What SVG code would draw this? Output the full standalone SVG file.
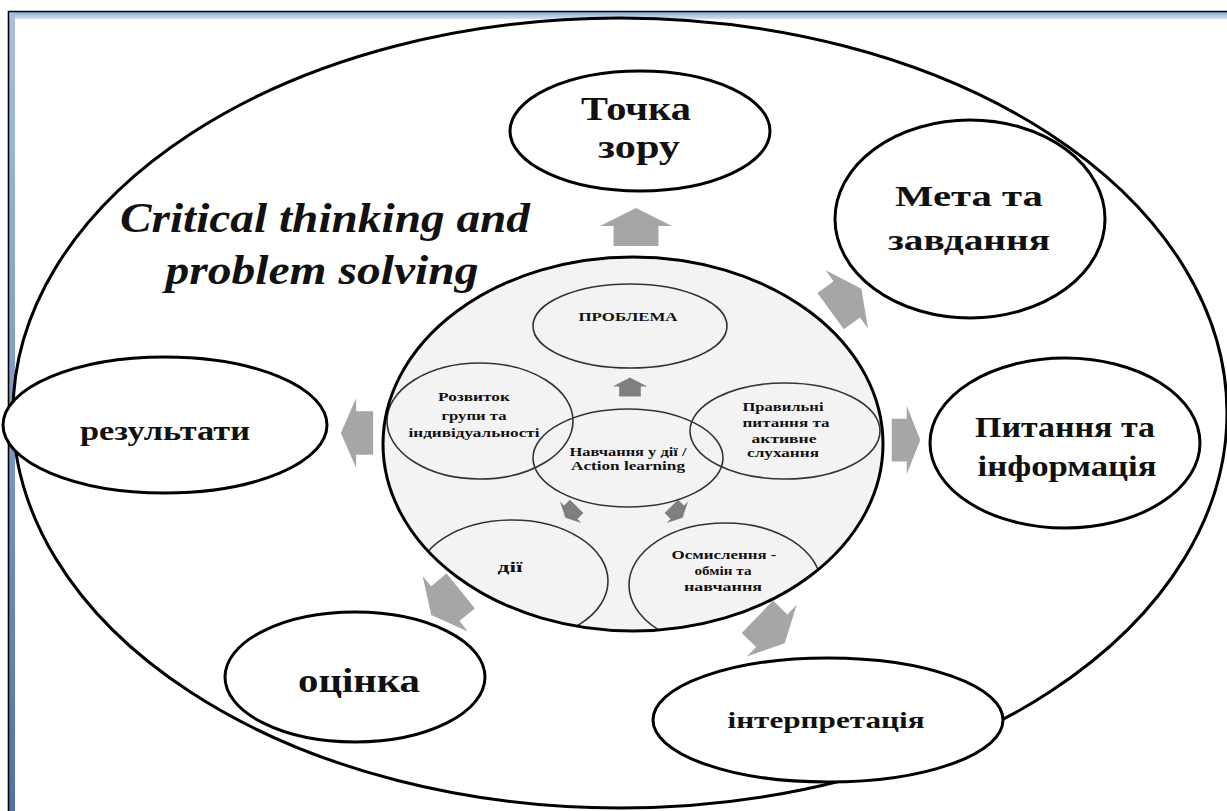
<svg xmlns="http://www.w3.org/2000/svg" width="1227" height="811" viewBox="0 0 1227 811">
<style>
.big{font-family:"Liberation Serif","Times New Roman",serif;font-weight:bold;fill:#111;text-anchor:middle}
.sm{font-family:"Liberation Serif","Times New Roman",serif;font-weight:bold;fill:#111;text-anchor:middle}
.ttl{font-family:"Liberation Serif","Times New Roman",serif;font-weight:bold;font-style:italic;fill:#111;text-anchor:middle}
.ol{fill:#fff;stroke:#000;stroke-width:3}
.il{fill:none;stroke:#333;stroke-width:1.6}
.barrow{fill:#a6a6a6}
.sarrow{fill:#7f7f7f}
</style>
<defs>
<linearGradient id="gTop" x1="0" y1="0" x2="0" y2="1"><stop offset="0" stop-color="#8ba8d2"/><stop offset="1" stop-color="#d9e3f1"/></linearGradient>
<linearGradient id="gLeft" x1="0" y1="0" x2="0" y2="1"><stop offset="0" stop-color="#a9bfdf"/><stop offset="1" stop-color="#4f74aa"/></linearGradient>
<path id="arr" d="M0,-19 L36,-1 L22.5,-1 L22.5,19 L-22.5,19 L-22.5,-1 L-36,-1 Z"/>
<clipPath id="innerClip"><ellipse cx="633" cy="444" rx="250" ry="187"/></clipPath>
</defs>
<rect x="0" y="0" width="1227" height="811" fill="#fff"/>
<g id="frame">
<rect x="9" y="12" width="1218" height="7" fill="url(#gTop)"/>
<rect x="9" y="12" width="6" height="799" fill="url(#gLeft)"/>
<path d="M8.5,811 L8.5,11.5 L1227,11.5" fill="none" stroke="#000" stroke-width="1.6"/>
</g>
<g id="outer">
<ellipse cx="620" cy="413" rx="607" ry="395" fill="none" stroke="#000" stroke-width="3"/>
</g>
<g id="title">
<text class="ttl" x="325" y="232" font-size="42" textLength="410" lengthAdjust="spacingAndGlyphs">Critical thinking and</text>
<text class="ttl" x="322" y="284" font-size="42" textLength="313" lengthAdjust="spacingAndGlyphs">problem solving</text>
</g>
<g id="node-tochka">
<ellipse class="ol" cx="640" cy="131" rx="130" ry="60"/>
<text class="big" x="636" y="120" font-size="34" textLength="110" lengthAdjust="spacingAndGlyphs">Точка</text>
<text class="big" x="639" y="158" font-size="34" textLength="82" lengthAdjust="spacingAndGlyphs">зору</text>
</g>
<g id="node-meta">
<ellipse class="ol" cx="970" cy="219" rx="135" ry="99"/>
<text class="big" x="969" y="206" font-size="30" textLength="148" lengthAdjust="spacingAndGlyphs">Мета та</text>
<text class="big" x="969" y="250" font-size="30" textLength="162" lengthAdjust="spacingAndGlyphs">завдання</text>
</g>
<g id="node-pytannia">
<ellipse class="ol" cx="1065" cy="443" rx="135" ry="85"/>
<text class="big" x="1065" y="437" font-size="29" textLength="180" lengthAdjust="spacingAndGlyphs">Питання та</text>
<text class="big" x="1067" y="476" font-size="29" textLength="179" lengthAdjust="spacingAndGlyphs">інформація</text>
</g>
<g id="node-interpretatsiia">
<ellipse class="ol" cx="828" cy="720" rx="175" ry="62"/>
<text class="big" x="826" y="728" font-size="23" textLength="197" lengthAdjust="spacingAndGlyphs">інтерпретація</text>
</g>
<g id="node-otsinka">
<ellipse class="ol" cx="355" cy="677" rx="130" ry="65"/>
<text class="big" x="359" y="692" font-size="34" textLength="122" lengthAdjust="spacingAndGlyphs">оцінка</text>
</g>
<g id="node-rezultaty">
<ellipse class="ol" cx="165" cy="425" rx="162" ry="68"/>
<text class="big" x="165" y="440" font-size="28" textLength="170" lengthAdjust="spacingAndGlyphs">результати</text>
</g>
<g id="node-inner">
<ellipse cx="633" cy="444" rx="250" ry="187" fill="#f3f3f3" stroke="none"/>
<g clip-path="url(#innerClip)">
<g id="node-problema">
<ellipse class="il" cx="630" cy="326" rx="97" ry="42"/>
<text class="sm" x="628" y="321" font-size="12" textLength="99" lengthAdjust="spacingAndGlyphs">ПРОБЛЕМА</text>
</g>
<g id="node-rozvytok">
<ellipse class="il" cx="480" cy="421" rx="93" ry="58"/>
<text class="sm" x="474" y="401" font-size="11.5" textLength="72" lengthAdjust="spacingAndGlyphs">Розвиток</text>
<text class="sm" x="474" y="420" font-size="11.5" textLength="65" lengthAdjust="spacingAndGlyphs">групи та</text>
<text class="sm" x="474" y="437" font-size="11.5" textLength="131" lengthAdjust="spacingAndGlyphs">індивідуальності</text>
</g>
<g id="node-pravylni">
<ellipse class="il" cx="785" cy="431" rx="95" ry="48"/>
<text class="sm" x="783" y="411" font-size="11.5" textLength="81" lengthAdjust="spacingAndGlyphs">Правильні</text>
<text class="sm" x="786" y="427" font-size="11.5" textLength="87" lengthAdjust="spacingAndGlyphs">питання та</text>
<text class="sm" x="784" y="443" font-size="11.5" textLength="65" lengthAdjust="spacingAndGlyphs">активне</text>
<text class="sm" x="783" y="457" font-size="11.5" textLength="72" lengthAdjust="spacingAndGlyphs">слухання</text>
</g>
<g id="node-dii">
<ellipse class="il" cx="512" cy="581" rx="96" ry="61"/>
<text class="sm" x="510" y="572" font-size="14" textLength="25" lengthAdjust="spacingAndGlyphs">дії</text>
</g>
<g id="node-osmyslennia">
<ellipse class="il" cx="725" cy="585" rx="96" ry="62"/>
<text class="sm" x="724" y="559" font-size="11.5" textLength="105" lengthAdjust="spacingAndGlyphs">Осмислення -</text>
<text class="sm" x="723" y="575" font-size="11.5" textLength="57" lengthAdjust="spacingAndGlyphs">обмін та</text>
<text class="sm" x="723" y="591" font-size="11.5" textLength="78" lengthAdjust="spacingAndGlyphs">навчання</text>
</g>
<g id="node-navchannia">
<ellipse class="il" cx="628" cy="458" rx="95" ry="49" fill="#f3f3f3"/>
<text class="sm" x="628" y="456" font-size="13" textLength="117" lengthAdjust="spacingAndGlyphs">Навчання у дії /</text>
<text class="sm" x="628" y="470" font-size="13" textLength="114" lengthAdjust="spacingAndGlyphs">Action learning</text>
</g>
</g>
<ellipse cx="633" cy="444" rx="250" ry="187" fill="none" stroke="#000" stroke-width="3"/>
</g>
<g id="connectors">
<use href="#arr" class="barrow" transform="translate(636,227)"/>
<use href="#arr" class="barrow" transform="translate(846,300) rotate(54)"/>
<use href="#arr" class="barrow" transform="translate(906,440) rotate(90) scale(0.95,0.75)"/>
<use href="#arr" class="barrow" transform="translate(771,630) rotate(134)"/>
<use href="#arr" class="barrow" transform="translate(446,603) rotate(231)"/>
<use href="#arr" class="barrow" transform="translate(357,433) rotate(-90) scale(0.97,0.85)"/>
<use href="#arr" class="sarrow" transform="translate(630,387) scale(0.48,0.5)"/>
<use href="#arr" class="sarrow" transform="translate(571,512) rotate(-135) scale(0.42)"/>
<use href="#arr" class="sarrow" transform="translate(677,512) rotate(135) scale(0.42)"/>
</g>
</svg>
